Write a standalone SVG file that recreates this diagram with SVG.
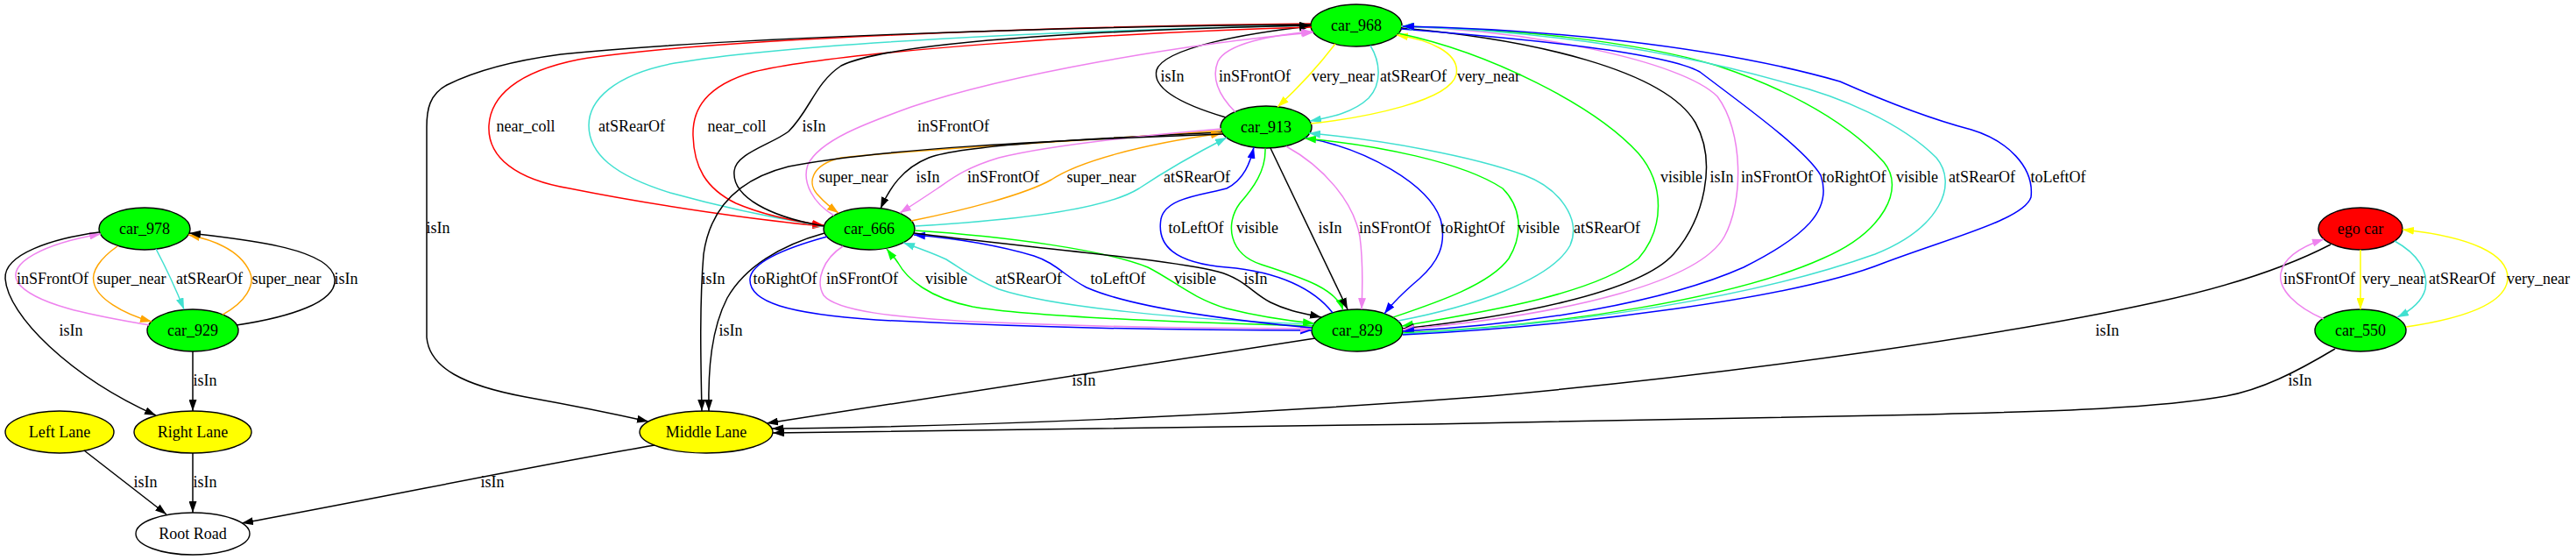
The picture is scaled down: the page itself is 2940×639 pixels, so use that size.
<svg xmlns="http://www.w3.org/2000/svg" width="2940" height="639" viewBox="0 0 2940 639">
<style>
text{font-family:"Liberation Serif","Times New Roman",serif;font-size:18px;fill:#000;text-anchor:middle}
.e path{fill:none;stroke-width:1.5}
.k{stroke:#000;marker-end:url(#ak)}
.r{stroke:#f00;marker-end:url(#ar)}
.g{stroke:#0f0;marker-end:url(#ag)}
.b{stroke:#00f;marker-end:url(#ab)}
.y{stroke:#ff0;marker-end:url(#ay)}
.v{stroke:#ee82ee;marker-end:url(#av)}
.t{stroke:#40e0d0;marker-end:url(#at)}
.o{stroke:#ffa500;marker-end:url(#ao)}
.n ellipse{stroke:#000;stroke-width:1.4}
.gr{fill:#0f0}.ye{fill:#ff0}.rd{fill:#f00}.wh{fill:#fff}
</style>
<defs>
<marker id="ak" viewBox="0 0 13 9" refX="13" refY="4.5" markerWidth="13" markerHeight="9" markerUnits="userSpaceOnUse" orient="auto"><path d="M0,0 L13,4.5 L0,9 z" fill="#000"/></marker>
<marker id="ar" viewBox="0 0 13 9" refX="13" refY="4.5" markerWidth="13" markerHeight="9" markerUnits="userSpaceOnUse" orient="auto"><path d="M0,0 L13,4.5 L0,9 z" fill="#f00"/></marker>
<marker id="ag" viewBox="0 0 13 9" refX="13" refY="4.5" markerWidth="13" markerHeight="9" markerUnits="userSpaceOnUse" orient="auto"><path d="M0,0 L13,4.5 L0,9 z" fill="#0f0"/></marker>
<marker id="ab" viewBox="0 0 13 9" refX="13" refY="4.5" markerWidth="13" markerHeight="9" markerUnits="userSpaceOnUse" orient="auto"><path d="M0,0 L13,4.5 L0,9 z" fill="#00f"/></marker>
<marker id="ay" viewBox="0 0 13 9" refX="13" refY="4.5" markerWidth="13" markerHeight="9" markerUnits="userSpaceOnUse" orient="auto"><path d="M0,0 L13,4.5 L0,9 z" fill="#ff0"/></marker>
<marker id="av" viewBox="0 0 13 9" refX="13" refY="4.5" markerWidth="13" markerHeight="9" markerUnits="userSpaceOnUse" orient="auto"><path d="M0,0 L13,4.5 L0,9 z" fill="#ee82ee"/></marker>
<marker id="at" viewBox="0 0 13 9" refX="13" refY="4.5" markerWidth="13" markerHeight="9" markerUnits="userSpaceOnUse" orient="auto"><path d="M0,0 L13,4.5 L0,9 z" fill="#40e0d0"/></marker>
<marker id="ao" viewBox="0 0 13 9" refX="13" refY="4.5" markerWidth="13" markerHeight="9" markerUnits="userSpaceOnUse" orient="auto"><path d="M0,0 L13,4.5 L0,9 z" fill="#ffa500"/></marker>
</defs>
<rect width="2940" height="639" fill="#fff"/>

<g id="nodes">
<g id="car_968" class="n"><ellipse class="gr" cx="1548" cy="29" rx="52" ry="24"/><text x="1548" y="35">car_968</text></g>
<g id="car_913" class="n"><ellipse class="gr" cx="1445" cy="145" rx="52" ry="24"/><text x="1445" y="151">car_913</text></g>
<g id="car_666" class="n"><ellipse class="gr" cx="992" cy="261" rx="52" ry="24"/><text x="992" y="267">car_666</text></g>
<g id="car_829" class="n"><ellipse class="gr" cx="1549" cy="377" rx="52" ry="24"/><text x="1549" y="383">car_829</text></g>
<g id="middle_lane" class="n"><ellipse class="ye" cx="806" cy="493" rx="76" ry="24"/><text x="806" y="499">Middle Lane</text></g>
<g id="car_978" class="n"><ellipse class="gr" cx="165" cy="261" rx="52" ry="24"/><text x="165" y="267">car_978</text></g>
<g id="car_929" class="n"><ellipse class="gr" cx="220" cy="377" rx="52" ry="24"/><text x="220" y="383">car_929</text></g>
<g id="left_lane" class="n"><ellipse class="ye" cx="68" cy="493" rx="62" ry="24"/><text x="68" y="499">Left Lane</text></g>
<g id="right_lane" class="n"><ellipse class="ye" cx="220" cy="493" rx="67" ry="24"/><text x="220" y="499">Right Lane</text></g>
<g id="root_road" class="n"><ellipse class="wh" cx="220" cy="609" rx="65" ry="24"/><text x="220" y="615">Root Road</text></g>
<g id="ego_car" class="n"><ellipse class="rd" cx="2694" cy="261" rx="48" ry="24"/><text x="2694" y="267">ego car</text></g>
<g id="car_550" class="n"><ellipse class="gr" cx="2694" cy="377" rx="52" ry="24"/><text x="2694" y="383">car_550</text></g>
</g>

<g id="edges" class="e">
<!-- left cluster -->
<g><path class="o" d="M134,281 C114,295 104,310 107,322 C110,340 140,358 173,367"/><text x="150" y="324">super_near</text></g>
<g><path class="t" d="M178,284 Q196,318 210,353"/><text x="239" y="324">atSRearOf</text></g>
<g><path class="v" d="M170,371 C120,362 40,350 20,322 C8,300 50,278 115,267"/><text x="60" y="324">inSFrontOf</text></g>
<g><path class="k" d="M113,265 C60,272 4,290 6,318 C9,360 80,430 178,474"/><text x="81" y="383">isIn</text></g>
<g><path class="o" d="M254,359 C280,345 292,325 285,310 C275,288 250,275 215,268"/><text x="327" y="324">super_near</text></g>
<g><path class="k" d="M270,371 C330,362 385,345 382,318 C378,285 290,274 216,266"/><text x="395" y="324">isIn</text></g>
<g><path class="k" d="M220,401 L220,469"/><text x="234" y="440">isIn</text></g>
<g><path class="k" d="M96,514 L190,587"/><text x="166" y="556">isIn</text></g>
<g><path class="k" d="M220,517 L220,585"/><text x="234" y="556">isIn</text></g>
<g><path class="k" d="M747,508 C600,533 450,565 276,597"/><text x="562" y="556">isIn</text></g>

<!-- car_968 / car_913 -->
<g><path class="k" d="M1399,134 C1345,118 1315,100 1320,80 C1328,55 1420,38 1496,30"/><text x="1338" y="93">isIn</text></g>
<g><path class="v" d="M1410,128 C1392,110 1382,90 1390,70 C1400,50 1450,40 1498,36"/><text x="1432" y="93">inSFrontOf</text></g>
<g><path class="y" d="M1524,50 Q1495,88 1458,122"/><text x="1533" y="93">very_near</text></g>
<g><path class="t" d="M1564,52 C1575,70 1578,95 1562,112 C1545,128 1520,134 1495,138"/><text x="1613" y="93">atSRearOf</text></g>
<g><path class="y" d="M1496,141 C1560,134 1655,115 1662,85 C1667,60 1630,45 1594,40"/><text x="1699" y="93">very_near</text></g>

<!-- car_968 / car_666 -->
<g><path class="r" d="M1496,27 C1200,30 800,45 660,68 C590,82 560,110 558,143 C556,180 590,205 650,215 C750,235 870,252 940,258"/><text x="600" y="150">near_coll</text></g>
<g><path class="t" d="M1496,29 C1200,35 900,50 770,72 C700,85 672,115 672,143 C672,175 700,200 765,220 C830,238 890,250 940,258"/><text x="721" y="150">atSRearOf</text></g>
<g><path class="r" d="M1497,31 C1250,38 950,60 860,82 C805,98 790,125 791,155 C792,190 805,215 840,232 C875,247 910,253 940,257"/><text x="841" y="150">near_coll</text></g>
<g><path class="k" d="M941,258 C880,248 835,225 838,195 C840,175 880,165 900,150 C925,125 930,95 960,75 C1020,45 1300,33 1496,29"/><text x="929" y="150">isIn</text></g>
<g><path class="v" d="M952,246 C928,232 915,208 922,188 C935,160 990,140 1040,122 C1150,85 1350,50 1499,37"/><text x="1088" y="150">inSFrontOf</text></g>
<g><path class="k" d="M1496,28 C1200,30 800,45 640,62 C580,70 540,82 510,97 C490,108 487,125 487,145 L487,385 C490,420 530,440 600,453 C650,462 700,472 740,481"/><text x="500" y="266">isIn</text></g>

<!-- car_913 / car_666 -->
<g><path class="o" d="M1394,149 C1250,160 1050,170 960,180 C925,188 920,210 935,224 C942,232 950,238 957,243"/><text x="974" y="208">super_near</text></g>
<g><path class="k" d="M1394,151 C1250,158 1100,165 1060,180 C1030,192 1015,215 1005,238"/><text x="1059" y="208">isIn</text></g>
<g><path class="v" d="M1394,147 C1300,155 1200,165 1140,180 C1100,192 1085,205 1070,215 C1055,225 1040,235 1027,243"/><text x="1145" y="208">inSFrontOf</text></g>
<g><path class="o" d="M1040,252 C1100,240 1170,222 1200,205 C1230,185 1300,165 1395,152"/><text x="1257" y="208">super_near</text></g>
<g><path class="t" d="M1044,258 C1150,252 1260,240 1300,215 C1330,195 1365,175 1400,157"/><text x="1366" y="208">atSRearOf</text></g>
<g><path class="k" d="M1396,153 C1200,160 1000,170 900,190 C840,205 810,240 803,290 C798,350 800,420 801,469"/><text x="814" y="324">isIn</text></g>
<g><path class="k" d="M941,266 C890,280 850,305 830,340 C812,375 808,420 809,469"/><text x="834" y="383">isIn</text></g>

<!-- car_666 / car_829 -->
<g><path class="b" d="M944,270 C900,282 858,298 856,318 C854,345 900,358 1000,365 C1200,375 1400,377 1497,377"/><text x="896" y="324">toRightOf</text></g>
<g><path class="v" d="M962,281 C940,295 930,320 940,337 C955,355 1020,362 1110,367 C1250,373 1400,375 1497,375"/><text x="984" y="324">inSFrontOf</text></g>
<g><path class="g" d="M1498,372 C1350,368 1180,362 1110,350 C1060,340 1035,318 1025,300 C1020,292 1015,288 1012,284"/><text x="1080" y="324">visible</text></g>
<g><path class="t" d="M1499,370 C1350,365 1200,350 1140,330 C1110,318 1095,305 1080,296 C1060,287 1045,282 1031,277"/><text x="1174" y="324">atSRearOf</text></g>
<g><path class="b" d="M1497,374 C1400,365 1290,350 1240,328 C1215,315 1205,300 1180,292 C1140,280 1090,272 1043,268"/><text x="1276" y="324">toLeftOf</text></g>
<g><path class="g" d="M1044,263 C1150,270 1260,285 1310,305 C1340,320 1360,340 1400,352 C1440,362 1470,366 1500,369"/><text x="1364" y="324">visible</text></g>
<g><path class="k" d="M1043,266 C1150,280 1330,295 1390,310 C1420,318 1430,335 1450,345 C1470,355 1490,358 1508,362"/><text x="1433" y="324">isIn</text></g>

<!-- car_913 / car_829 -->
<g><path class="b" d="M1521,357 C1500,330 1460,310 1400,305 C1340,300 1320,280 1325,250 C1330,225 1375,222 1400,215 C1420,205 1427,185 1431,168"/><text x="1365" y="266">toLeftOf</text></g>
<g><path class="g" d="M1444,169 C1445,195 1430,215 1415,232 C1398,255 1402,290 1440,302 C1490,318 1525,330 1533,354"/><text x="1435" y="266">visible</text></g>
<g><path class="k" d="M1450,169 L1538,353"/><text x="1518" y="266">isIn</text></g>
<g><path class="v" d="M1468,167 C1510,190 1545,230 1552,270 C1556,300 1555,330 1554,353"/><text x="1592" y="266">inSFrontOf</text></g>
<g><path class="b" d="M1490,157 C1560,170 1630,210 1644,250 C1652,280 1640,300 1620,318 C1600,335 1590,345 1580,358"/><text x="1681" y="266">toRightOf</text></g>
<g><path class="g" d="M1590,362 C1640,345 1700,325 1722,295 C1740,265 1735,235 1715,215 C1670,185 1570,165 1489,158"/><text x="1756" y="266">visible</text></g>
<g><path class="t" d="M1596,366 C1680,350 1770,320 1792,280 C1805,250 1780,215 1740,200 C1680,178 1580,160 1494,152"/><text x="1834" y="266">atSRearOf</text></g>

<!-- car_968 / car_829 -->
<g><path class="g" d="M1596,38 C1700,60 1820,120 1870,175 C1900,210 1900,260 1870,295 C1820,335 1700,355 1600,372"/><text x="1919" y="208">visible</text></g>
<g><path class="k" d="M1599,32 C1750,45 1900,80 1935,140 C1960,185 1945,250 1910,290 C1870,335 1720,362 1601,375"/><text x="1965" y="208">isIn</text></g>
<g><path class="v" d="M1599,30 C1750,35 1920,70 1960,110 C1990,150 1990,230 1968,270 C1940,320 1800,358 1601,376"/><text x="2028" y="208">inSFrontOf</text></g>
<g><path class="b" d="M1599,33 C1750,45 1900,60 1940,82 C1990,120 2060,170 2078,200 C2092,240 2060,270 1990,305 C1900,345 1750,370 1601,378"/><text x="2116" y="208">toRightOf</text></g>
<g><path class="g" d="M1601,380 C1780,372 1980,340 2080,295 C2150,265 2175,215 2150,185 C2100,130 2020,95 1960,75 C1860,45 1720,33 1600,30"/><text x="2188" y="208">visible</text></g>
<g><path class="t" d="M1601,381 C1800,370 2000,340 2140,290 C2215,260 2235,210 2210,180 C2170,140 2100,110 2040,95 C1900,55 1750,35 1600,30"/><text x="2262" y="208">atSRearOf</text></g>
<g><path class="b" d="M1601,382 C1800,372 2050,340 2150,300 C2230,270 2310,250 2318,225 C2322,190 2290,160 2250,148 C2200,135 2150,115 2100,93 C1950,50 1750,33 1601,30"/><text x="2349" y="208">toLeftOf</text></g>

<!-- to Middle Lane from right -->
<g><path class="k" d="M1501,386 L875,483"/><text x="1237" y="440">isIn</text></g>
<g><path class="k" d="M2660,279 C2600,310 2530,330 2460,345 C2300,380 2000,425 1700,452 C1400,475 1100,487 881,489"/><text x="2405" y="383">isIn</text></g>
<g><path class="k" d="M2665,398 C2620,425 2580,445 2540,452 C2450,468 2300,470 2200,473 C1800,483 1200,490 882,494"/><text x="2625" y="440">isIn</text></g>

<!-- ego / car_550 -->
<g><path class="v" d="M2652,364 C2620,350 2600,330 2603,312 C2606,295 2625,282 2652,273"/><text x="2647" y="324">inSFrontOf</text></g>
<g><path class="y" d="M2694,285 L2694,353"/><text x="2732" y="324">very_near</text></g>
<g><path class="t" d="M2733,275 C2760,290 2772,310 2768,330 C2764,345 2750,355 2736,362"/><text x="2810" y="324">atSRearOf</text></g>
<g><path class="y" d="M2746,373 C2800,365 2860,350 2862,318 C2863,290 2820,270 2742,262"/><text x="2897" y="324">very_near</text></g>
</g>
</svg>
